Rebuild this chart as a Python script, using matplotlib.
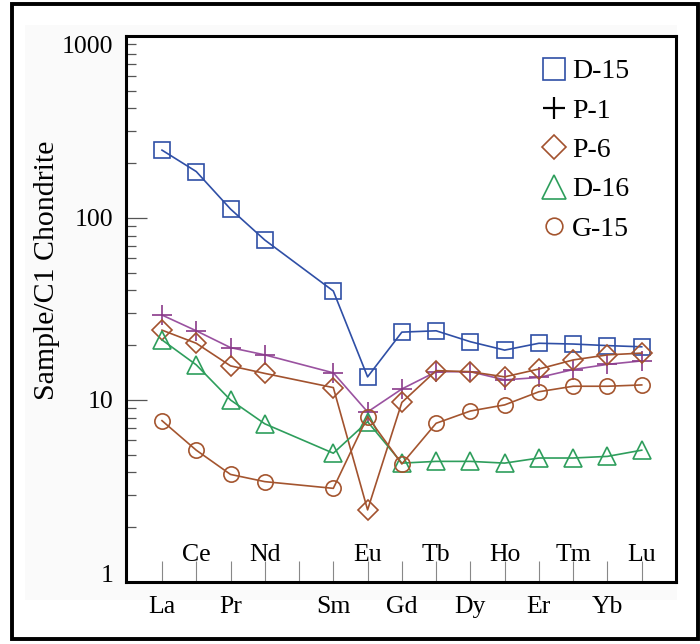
import matplotlib
matplotlib.use("Agg")
import matplotlib.pyplot as plt
from matplotlib.lines import Line2D
from matplotlib.patches import Rectangle
from matplotlib.ticker import LogLocator, NullFormatter

plt.rcParams['font.family'] = ['Liberation Serif', 'DejaVu Serif']

# REE order (Pm is a gap with no data)
elements = ['La', 'Ce', 'Pr', 'Nd', 'Pm', 'Sm', 'Eu', 'Gd', 'Tb', 'Dy', 'Ho', 'Er', 'Tm', 'Yb', 'Lu']
plotted = ['La', 'Ce', 'Pr', 'Nd', 'Sm', 'Eu', 'Gd', 'Tb', 'Dy', 'Ho', 'Er', 'Tm', 'Yb', 'Lu']
labels_below = ['La', 'Pr', 'Sm', 'Gd', 'Dy', 'Er', 'Yb']
labels_above = ['Ce', 'Nd', 'Eu', 'Tb', 'Ho', 'Tm', 'Lu']

d15 = [236, 180, 112, 75.7, 39.7, 13.4, 23.6, 24.0, 20.9, 18.8, 20.5, 20.3, 19.9, 19.6]
p1 = [29.3, 24.0, 19.4, 17.7, 14.1, 8.6, 11.5, 14.3, 14.3, 12.9, 13.3, 14.7, 15.7, 16.4]
p6 = [24.2, 20.5, 15.4, 14.0, 11.7, 2.49, 9.7, 14.5, 14.3, 13.4, 14.8, 16.6, 17.7, 18.1]
d16 = [21.4, 15.6, 10.0, 7.4, 5.1, 7.6, 4.5, 4.6, 4.6, 4.5, 4.8, 4.8, 4.9, 5.3]
g15 = [7.7, 5.3, 3.9, 3.56, 3.27, 8.1, 4.45, 7.45, 8.7, 9.4, 11.1, 11.9, 11.9, 12.1]

series_names = ['D-15', 'P-1', 'P-6', 'D-16', 'G-15']
series_data = [d15, p1, p6, d16, g15]
y_ticks = [1, 10, 100, 1000]
y_tick_labels = ['1', '10', '100', '1000']

styles = {
    'D-15': dict(marker='s', color='#2f4fa6', ms=11, mfc='none'),
    'P-1': dict(marker='+', color='#9a52a0', ms=14, mec='#8a3a8a'),
    'P-6': dict(marker='D', color='#a2522e', ms=10, mfc='none'),
    'D-16': dict(marker='^', color='#2e9e5c', ms=13, mfc='none'),
    'G-15': dict(marker='o', color='#a4552f', ms=11, mfc='none'),
}
legend_styles = {
    'D-15': dict(marker='s', mec='#2f4fa6', ms=16),
    'P-1': dict(marker='+', mec='black', ms=16, mew=1.6),
    'P-6': dict(marker='D', mec='#a2522e', ms=12),
    'D-16': dict(marker='^', mec='#2e9e5c', ms=17),
    'G-15': dict(marker='o', mec='#a4552f', ms=12),
}

fig = plt.figure(figsize=(7, 6.44), dpi=100)
W, H = 700, 644

# faint background panel and outer frame
fig.patches.append(Rectangle((25 / W, 1 - 600 / H), (677 - 25) / W, (600 - 25) / H,
                             transform=fig.transFigure, facecolor='#fafafa', edgecolor='none', zorder=-5))
fig.patches.append(Rectangle((12 / W, 1 - 639 / H), (698 - 12) / W, (639 - 4) / H,
                             transform=fig.transFigure, facecolor='none', edgecolor='black',
                             linewidth=2.8, zorder=-4))

ax = fig.add_axes([126 / W, 1 - 582 / H, (676 - 126) / W, (582 - 36) / H])
ax.set_zorder(2)
ax.set_facecolor('white')

x = [elements.index(e) + 1 for e in plotted]
for name, vals in zip(series_names, series_data):
    st = styles[name]
    ax.plot(x, vals, linestyle='-', linewidth=1.2, color=st['color'], marker=st['marker'],
            markersize=st['ms'], markerfacecolor=st.get('mfc', st['color']),
            markeredgecolor=st.get('mec', st['color']), markeredgewidth=1.2, zorder=3)

ax.set_yscale('log')
ax.set_ylim(1, 1000)
ax.set_xlim(-0.05, 16.0)

ax.set_yticks(y_ticks)
ax.set_yticklabels(y_tick_labels)
ax.yaxis.set_minor_locator(LogLocator(base=10, subs=range(2, 10)))
ax.yaxis.set_minor_formatter(NullFormatter())
ax.tick_params(axis='y', which='major', direction='in', length=15, width=0.9, color='#555555',
               labelsize=18.5, pad=9, right=False)
ax.tick_params(axis='y', which='minor', direction='in', length=7, width=0.9, color='#555555', right=False)
tl = ax.get_yticklabels()
tl[0].set_va('baseline')
tl[-1].set_va('top')

ax.set_xticks(range(1, len(elements) + 1))
ax.tick_params(axis='x', which='major', direction='in', length=15, width=0.8, color='#888888',
               labelbottom=False, top=False)
ax.tick_params(axis='x', which='minor', bottom=False, top=False)

for sp in ax.spines.values():
    sp.set_linewidth(2.2)

trans = ax.get_xaxis_transform()
for e in labels_below:
    ax.text(elements.index(e) + 1, -0.046, e, transform=trans, ha='center', va='center', fontsize=18.5)
for e in labels_above:
    ax.text(elements.index(e) + 1, 0.05, e, transform=trans, ha='center', va='center', fontsize=18.5)

fig.text(47 / W, 1 - 270 / H, 'Sample/C1 Chondrite', rotation=90, ha='center', va='center', fontsize=21.5)

handles = [Line2D([], [], linestyle='none', markerfacecolor='none', markeredgewidth=1.2,
                  **legend_styles[n]) for n in series_names]
ax.legend(handles, series_names, loc='upper left', bbox_to_anchor=(0.756, 0.958), frameon=False,
          prop={'size': 20}, handlelength=0.9, handletextpad=0.2, labelspacing=0.5,
          borderpad=0, borderaxespad=0)

fig.savefig('out.png', dpi=100)
